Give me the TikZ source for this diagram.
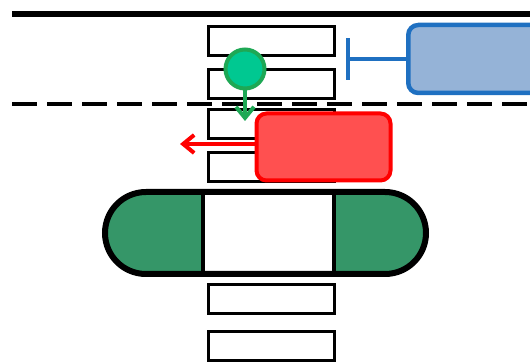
\documentclass[tikz,border=0pt]{standalone}
\usetikzlibrary{arrows.meta}
\definecolor{cfill}{RGB}{0,200,145}
\definecolor{cline}{RGB}{30,168,85}
\definecolor{bfill}{RGB}{149,179,215}
\definecolor{bline}{RGB}{31,112,193}
\definecolor{rfill}{RGB}{255,80,80}
\definecolor{rline}{RGB}{255,0,0}
\definecolor{pfill}{RGB}{53,150,104}
\tikzset{
  seg/.style={draw=black, line width=3pt, fill=white, rectangle, minimum width=126pt, minimum height=29pt, inner sep=0pt},
  bar/.style={rectangle, rounded corners=10pt, inner sep=0pt},
  barb/.style={-{Straight Barb[length=11pt,width=18pt,line width=4pt]}},
}
\begin{document}
\begin{tikzpicture}[x=1pt,y=-1pt]
\useasboundingbox (0,0) rectangle (530,363);
% membrane lines
\coordinate (tl) at (12,14); \coordinate (tr) at (535,14);
\draw[line width=6pt] (tl) -- (tr);
\coordinate (dl) at (12,104); \coordinate (dr) at (535,104);
\draw[line width=3.5pt, dash pattern=on 25pt off 10pt] (dl) -- (dr);
% segments
\node[seg] (s1) at (271,41) {};
\node[seg] (s2) at (271,84) {};
\node[seg] (s3) at (271,124) {};
\node[seg] (s4) at (271,167) {};
\node[seg] (s5) at (271,299) {};
\node[seg] (s6) at (271,346) {};
% pill
\begin{scope}
\clip[rounded corners=41pt] (105,192) rectangle (426,274);
\fill[pfill] (105,192) rectangle (203,274);
\fill[pfill] (334,192) rectangle (426,274);
\end{scope}
\draw[line width=4pt] (203,192) -- (203,274);
\draw[line width=4pt] (334,192) -- (334,274);
\node[draw=black, line width=6pt, rectangle, rounded corners=41pt, minimum width=321pt, minimum height=82pt, inner sep=0pt] (pill) at (265.5,233) {};
% blue inhibitor
\node[bar, draw=bline, fill=bfill, line width=4.5pt, minimum width=150pt, minimum height=68pt, anchor=west] (blue) at (406,59) {};
\coordinate (bt) at (346,59);
\draw[bline, line width=4pt, -{Bar[width=42pt,line width=4pt]}] (blue.west) -- (bt);
% green circle and arrow
\node[circle, draw=cline, fill=cfill, line width=4pt, minimum size=39pt, inner sep=0pt] (g) at (245,69) {};
\coordinate (gt) at (245,121);
\draw[cline, line width=4pt, barb] (g.south) -- (gt);
% red box and arrow
\node[bar, draw=rline, fill=rfill, line width=4pt, minimum width=134pt, minimum height=67pt] (red) at (323.5,147) {};
\coordinate (rt) at (180,144);
\draw[rline, line width=4pt, barb] (red.west |- rt) -- (rt);
\end{tikzpicture}
\end{document}
